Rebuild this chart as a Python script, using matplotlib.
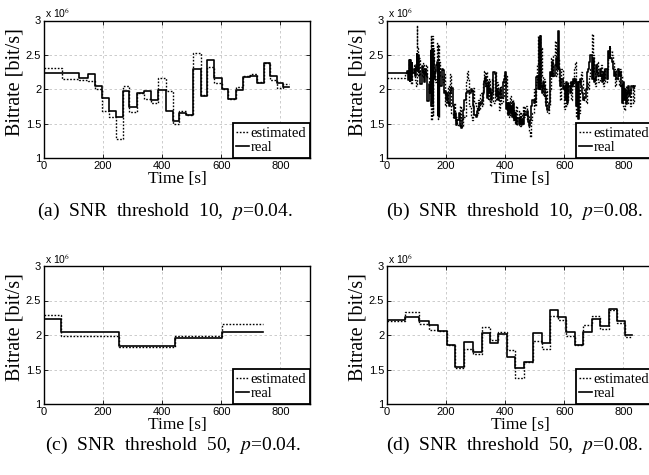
import matplotlib
matplotlib.use("Agg")
import matplotlib.pyplot as plt
import numpy as np

# ---------------- data (bitrate in units of 1e6 bit/s) ----------------
# (a) SNR threshold 10, p=0.04
a_t = [0, 60, 120, 150, 173, 196, 221, 244, 266, 289, 313, 338, 362, 387, 412, 435,
       458, 480, 505, 530, 552, 576, 601, 624, 649, 673, 698, 722, 743, 764, 787, 809, 829]
a_real = [2.24, 2.24, 2.17, 2.22, 2.05, 1.88, 1.69, 1.60, 1.97, 1.74, 1.95, 1.97, 1.84, 1.99,
          1.69, 1.54, 1.66, 1.62, 2.29, 1.90, 2.43, 2.17, 2.01, 1.86, 1.99, 2.18, 2.20, 2.09,
          2.38, 2.19, 2.09, 2.03]
a_est = [2.31, 2.15, 2.14, 2.12, 2.00, 1.69, 1.60, 1.27, 2.05, 1.67, 1.95, 1.86, 1.80, 2.17,
         1.97, 1.49, 1.68, 1.62, 2.53, 1.91, 2.33, 2.09, 2.00, 1.86, 2.04, 2.19, 2.22, 2.11,
         2.38, 2.14, 2.02, 2.08]

# (b) SNR threshold 10, p=0.08
b_t = [0, 60, 66, 72, 75, 77, 79, 81, 83, 86, 90, 94, 98, 100, 103, 106, 109, 113, 117, 121,
       125, 129, 133, 137, 141, 145, 148, 150, 152, 154, 156, 158, 162, 166, 169, 171, 173, 175,
       177, 181, 185, 189, 193, 197, 201, 204, 207, 210, 214, 218, 222, 226, 230, 234, 238, 242,
       246, 250, 254, 258, 262, 266, 270, 274, 278, 283, 287, 292, 296, 300, 304, 308, 312, 316,
       320, 324, 327, 331, 335, 339, 342, 345, 349, 352, 356, 360, 364, 368, 371, 375, 379, 383,
       387, 391, 395, 399, 403, 407, 411, 414, 417, 420, 424, 427, 430, 434, 437, 441, 445, 449,
       452, 456, 460, 464, 468, 472, 476, 480, 484, 488, 492, 496, 500, 504, 508, 512, 514, 516,
       518, 520, 523, 527, 531, 535, 539, 543, 547, 551, 555, 559, 563, 567, 571, 575, 578, 582,
       586, 590, 594, 598, 602, 605, 608, 611, 614, 618, 621, 625, 628, 632, 636, 640, 643, 646,
       649, 652, 656, 660, 664, 668, 672, 676, 680, 684, 688, 692, 696, 699, 703, 707, 711, 715,
       719, 723, 727, 731, 735, 739, 743, 747, 750, 753, 756, 760, 764, 768, 772, 776, 780, 784,
       788, 792, 796, 799, 802, 805, 808, 811, 815, 819, 823, 827, 831, 835, 839]
b_real = [2.24, 2.24, 2.27, 2.13, 2.42, 2.12, 2.43, 2.15, 2.38, 2.24, 2.30, 2.20, 2.35, 2.52,
          2.28, 2.50, 2.25, 2.08, 2.34, 2.25, 2.10, 2.30, 2.22, 1.83, 2.08, 1.95, 2.55, 1.75,
          2.58, 1.80, 2.45, 2.15, 2.25, 2.35, 2.40, 1.62, 2.38, 1.65, 2.25, 2.05, 2.30, 2.28,
          1.95, 1.97, 1.85, 1.95, 1.80, 1.75, 1.95, 2.02, 1.75, 1.58, 1.65, 1.48, 1.55, 1.65,
          1.47, 1.43, 1.55, 1.70, 1.85, 1.95, 1.97, 1.97, 1.95, 2.00, 1.97, 1.75, 1.62, 1.60,
          1.68, 1.72, 1.80, 1.78, 1.85, 1.95, 2.12, 2.18, 2.05, 1.88, 2.10, 1.95, 2.00, 1.85,
          1.95, 2.25, 2.22, 1.90, 2.00, 1.85, 1.95, 2.00, 1.88, 2.10, 2.15, 2.25, 1.72, 1.80,
          1.62, 1.80, 1.65, 1.75, 1.60, 1.80, 1.55, 1.65, 1.50, 1.58, 1.50, 1.60, 1.48, 1.55,
          1.50, 1.65, 1.62, 1.68, 1.52, 1.46, 1.55, 1.75, 1.85, 1.80, 1.85, 2.18, 2.20, 2.00,
          2.75, 2.00, 2.78, 2.05, 1.95, 2.10, 2.05, 1.90, 1.75, 1.70, 1.80, 2.25, 2.20, 2.40,
          2.20, 2.35, 2.45, 2.30, 2.85, 2.30, 2.05, 2.15, 2.00, 2.05, 1.85, 2.10, 1.80, 2.08,
          2.05, 1.95, 2.10, 2.05, 2.15, 2.10, 2.15, 1.75, 2.10, 1.57, 2.10, 2.15, 2.05, 1.95,
          1.85, 1.88, 2.00, 2.25, 2.30, 2.40, 2.50, 2.15, 2.45, 2.10, 2.15, 2.35, 2.25, 2.20,
          2.30, 2.20, 2.10, 2.25, 2.15, 2.30, 2.15, 2.55, 2.45, 2.62, 2.45, 2.40, 2.30, 2.20,
          2.25, 2.15, 2.30, 2.20, 2.25, 2.05, 1.80, 2.10, 1.85, 2.00, 1.78, 1.95, 2.05, 1.90,
          1.95, 2.05, 2.02, 2.05]
b_est = [2.16, 2.24, 2.26, 2.25, 2.38, 2.10, 2.40, 2.08, 2.33, 2.30, 2.35, 2.14, 2.05, 2.93,
         2.60, 2.20, 2.45, 2.22, 2.18, 2.38, 2.30, 2.20, 2.35, 2.18, 1.95, 2.10, 2.78, 1.55,
         2.78, 1.62, 2.60, 2.30, 2.10, 2.15, 2.68, 1.57, 2.65, 1.60, 2.40, 2.20, 2.15, 2.10,
         2.22, 1.75, 1.90, 1.80, 2.05, 1.95, 2.22, 1.65, 1.60, 1.80, 1.55, 1.60, 1.48, 1.50,
         1.75, 1.55, 1.45, 1.62, 1.60, 2.10, 2.27, 2.15, 1.75, 1.60, 1.55, 2.02, 1.80, 1.75,
         1.62, 1.85, 1.70, 1.95, 1.75, 2.10, 2.27, 2.05, 2.25, 2.05, 1.85, 2.15, 1.75, 1.95,
         2.15, 1.80, 2.25, 1.85, 2.10, 1.95, 1.70, 2.05, 1.80, 1.90, 2.22, 2.05, 2.20, 1.65,
         1.75, 1.60, 1.90, 1.62, 1.85, 1.55, 1.70, 1.50, 1.75, 1.48, 1.68, 1.47, 1.65, 1.50,
         1.75, 1.60, 1.75, 1.55, 1.62, 1.40, 1.30, 1.55, 1.65, 2.00, 1.75, 2.10, 2.35, 2.78,
         2.05, 2.80, 2.00, 2.60, 2.20, 1.90, 2.15, 1.80, 2.00, 1.65, 1.75, 2.00, 2.45, 2.20,
         2.50, 2.70, 2.20, 2.60, 2.45, 2.10, 1.85, 2.30, 2.10, 1.72, 1.80, 1.75, 2.05, 1.85,
         2.10, 2.05, 1.85, 2.10, 2.05, 2.30, 2.40, 1.60, 1.75, 2.00, 1.65, 2.10, 2.25, 2.15,
         2.00, 1.85, 1.80, 2.10, 2.00, 2.20, 2.30, 2.80, 2.50, 2.25, 2.05, 2.20, 2.40, 2.10,
         2.15, 2.35, 2.20, 2.05, 2.30, 2.10, 2.30, 2.45, 2.60, 2.45, 2.55, 2.50, 2.40, 2.30,
         2.05, 2.30, 2.15, 2.05, 2.30, 2.20, 2.00, 1.75, 1.70, 1.85, 2.05, 1.80, 1.95, 2.00,
         1.75, 2.00, 1.80, 2.05]

# (c) SNR threshold 50, p=0.04
c_t = [0, 59, 254, 444, 603, 742]
c_real = [2.23, 2.04, 1.84, 1.96, 2.05]
c_est = [2.29, 1.98, 1.83, 1.98, 2.16]

# (d) SNR threshold 50, p=0.08
d_t = [0, 61, 107, 141, 173, 202, 229, 259, 291, 320, 348, 377, 405, 434, 464, 493, 523,
       552, 580, 607, 636, 664, 693, 720, 750, 777, 805, 828]
d_real = [2.22, 2.26, 2.21, 2.14, 2.06, 1.85, 1.53, 1.90, 1.75, 2.03, 1.89, 2.02, 1.68, 1.52,
          1.61, 2.03, 1.89, 2.36, 2.26, 2.04, 1.86, 2.05, 2.23, 2.13, 2.37, 2.20, 2.00]
d_est = [2.21, 2.33, 2.16, 2.07, 2.06, 1.86, 1.52, 1.79, 1.73, 2.11, 1.93, 2.04, 1.78, 1.38,
         1.61, 1.92, 1.80, 2.27, 2.22, 1.99, 1.86, 2.14, 2.27, 2.08, 2.36, 2.17, 1.97]

captions = ["(a)  SNR  threshold  10,  $p$=0.04.", "(b)  SNR  threshold  10,  $p$=0.08.",
            "(c)  SNR  threshold  50,  $p$=0.04.", "(d)  SNR  threshold  50,  $p$=0.08."]
x_ticks = [0, 200, 400, 600, 800]
y_ticks = [1, 1.5, 2, 2.5, 3]
y_ticklabels = ["1", "1.5", "2", "2.5", "3"]

panels = [(a_t, a_real, a_est), (b_t, b_real, b_est), (c_t, c_real, c_est), (d_t, d_real, d_est)]

# ---------------- figure ----------------
plt.rcParams['mathtext.fontset'] = 'stix'
serif = ['Liberation Serif', 'DejaVu Serif']
sans = ['Liberation Sans', 'DejaVu Sans']

W, H = 649, 475
fig = plt.figure(figsize=(W / 100, H / 100), dpi=100)

lefts = [44, 387, 44, 387]
tops = [20.5, 20.5, 266, 266]
bottoms = [158, 158, 404, 404]
axw = 266
cap_x = [165, 515, 173, 515]
cap_y = [211, 211, 445, 445]

for i, (t, real, est) in enumerate(panels):
    l, tp, bt = lefts[i], tops[i], bottoms[i]
    ax = fig.add_axes([l / W, 1 - bt / H, axw / W, (bt - tp) / H])
    tt = np.asarray(t, dtype=float)
    r = np.append(np.asarray(real), real[-1])
    e = np.append(np.asarray(est), est[-1])
    ax.plot(tt, e, drawstyle='steps-post', color='black', linestyle=(0, (1.2, 1.2)),
            linewidth=1.0, label='estimated')
    ax.plot(tt, r, drawstyle='steps-post', color='black', linestyle='-',
            linewidth=1.2, label='real')
    ax.set_xlim(0, 900)
    ax.set_ylim(1, 3)
    ax.set_xticks(x_ticks)
    ax.set_yticks(y_ticks)
    ax.set_yticklabels(y_ticklabels)
    ax.grid(True, color='#c4c4c4', linestyle=(0, (3, 3)), linewidth=0.6)
    ax.tick_params(direction='in', length=3, width=0.6, top=True, right=True,
                   labelsize=8, pad=2)
    for lab in ax.get_xticklabels() + ax.get_yticklabels():
        lab.set_family(sans)
    for sp in ax.spines.values():
        sp.set_linewidth(1.0)
    ax.set_xlabel("Time [s]", family=serif, fontsize=12.5, labelpad=0.5)
    ax.set_ylabel("Bitrate [bit/s]", family=serif, fontsize=14.5)
    ax.yaxis.set_label_coords(-0.072, 0.555)
    ax.text(0.005, 1.0, "x 10$^{6}$", transform=ax.transAxes, family=sans,
            fontsize=7.5, va='bottom', ha='left')
    leg = ax.legend(loc='lower right', borderaxespad=0, prop={'family': serif, 'size': 10.5},
                    handlelength=0.9, handletextpad=0.1, borderpad=0.25, labelspacing=0.1,
                    fancybox=False, framealpha=1, edgecolor='black', shadow=False)
    leg.get_frame().set_linewidth(1.3)
    fig.text(cap_x[i] / W, 1 - cap_y[i] / H, captions[i], family=serif, fontsize=14,
             ha='center', va='center')

fig.savefig("out.png", dpi=100)
